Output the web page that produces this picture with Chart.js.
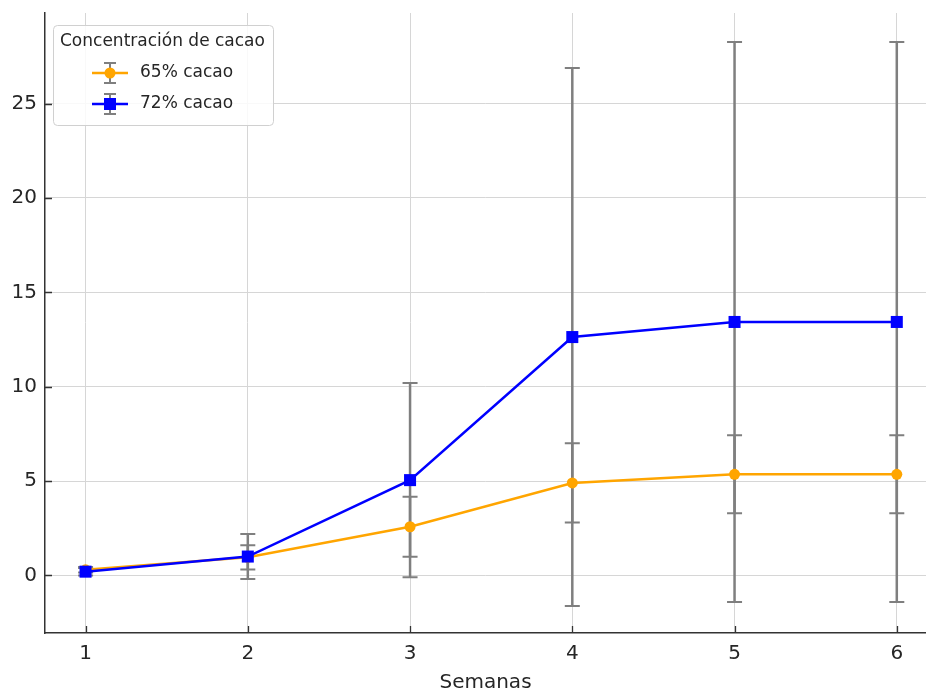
<!DOCTYPE html>
<html>
<head>
<meta charset="utf-8">
<script src="https://cdn.jsdelivr.net/npm/chart.js@4"></script>
<style>
  html, body { margin: 0; padding: 0; background: #fff; overflow: hidden; }
  #grafica { display: block; }
</style>
</head>
<body>
<canvas id="grafica" width="926" height="695"></canvas>
<script>
var semanas = [1, 2, 3, 4, 5, 6];
var etiquetas = ['65% cacao', '72% cacao'];
var cacao65 = [0.3, 0.96, 2.58, 4.9, 5.36, 5.36];
var error65 = [0.15, 0.64, 1.59, 2.1, 2.07, 2.07];
var cacao72 = [0.2, 1.0, 5.05, 12.63, 13.43, 13.43];
var error72 = [0.2, 1.19, 5.15, 14.25, 14.84, 14.84];
var ticksY = [0, 5, 10, 15, 20, 25];

var fuente = "'DejaVu Sans', sans-serif";

function puntos(valores) {
    return semanas.map((s, i) => ({ x: s, y: valores[i] }));
}

// barras de error grises con tapas
var barrasError = {
    id: 'barrasError',
    beforeDatasetsDraw(chart) {
        var ctx = chart.ctx;
        var x = chart.scales.x, y = chart.scales.y;
        ctx.save();
        ctx.strokeStyle = '#7f7f7f';
        chart.data.datasets.forEach(ds => {
            ds.errores.forEach((e, i) => {
                var px = x.getPixelForValue(semanas[i]);
                var arriba = y.getPixelForValue(ds.data[i].y + e);
                var abajo = y.getPixelForValue(ds.data[i].y - e);
                ctx.lineWidth = 2.5;
                ctx.beginPath();
                ctx.moveTo(px, arriba);
                ctx.lineTo(px, abajo);
                ctx.stroke();
                ctx.lineWidth = 2;
                ctx.beginPath();
                ctx.moveTo(px - 7.5, arriba); ctx.lineTo(px + 7.5, arriba);
                ctx.moveTo(px - 7.5, abajo); ctx.lineTo(px + 7.5, abajo);
                ctx.stroke();
            });
        });
        ctx.restore();
    }
};

// marcas de los ejes hacia dentro
var marcasDentro = {
    id: 'marcasDentro',
    afterDraw(chart) {
        var ctx = chart.ctx;
        var x = chart.scales.x, y = chart.scales.y;
        var area = chart.chartArea;
        ctx.save();
        ctx.strokeStyle = '#333';
        ctx.lineWidth = 1.3;
        ctx.beginPath();
        semanas.forEach(s => {
            var px = Math.round(x.getPixelForValue(s)) + 0.5;
            ctx.moveTo(px, area.bottom);
            ctx.lineTo(px, area.bottom - 7);
        });
        ticksY.forEach(v => {
            var py = Math.round(y.getPixelForValue(v)) + 0.5;
            ctx.moveTo(area.left, py);
            ctx.lineTo(area.left + 7, py);
        });
        ctx.stroke();
        ctx.restore();
    }
};

// leyenda dentro del area
var leyenda = {
    id: 'leyenda',
    afterDraw(chart) {
        var ctx = chart.ctx;
        ctx.save();
        ctx.beginPath();
        ctx.roundRect(53.5, 25.5, 220, 100, 4);
        ctx.fillStyle = 'rgba(255,255,255,0.85)';
        ctx.fill();
        ctx.strokeStyle = '#d0d0d0';
        ctx.lineWidth = 1;
        ctx.stroke();

        ctx.fillStyle = '#262626';
        ctx.font = '17px ' + fuente;
        ctx.textBaseline = 'middle';
        ctx.textAlign = 'left';
        ctx.fillText('Concentración de cacao', 60, 42);

        var filas = [73, 104];
        chart.data.datasets.forEach((ds, i) => {
            var fy = filas[i];
            ctx.strokeStyle = '#7f7f7f';
            ctx.lineWidth = 2;
            ctx.beginPath();
            ctx.moveTo(110, fy - 10); ctx.lineTo(110, fy + 10);
            ctx.moveTo(104, fy - 10); ctx.lineTo(116, fy - 10);
            ctx.moveTo(104, fy + 10); ctx.lineTo(116, fy + 10);
            ctx.stroke();
            ctx.strokeStyle = ds.borderColor;
            ctx.lineWidth = 2.5;
            ctx.beginPath();
            ctx.moveTo(92, fy); ctx.lineTo(128, fy);
            ctx.stroke();
            ctx.fillStyle = ds.backgroundColor;
            if (ds.pointStyle === 'rect') {
                ctx.fillRect(104, fy - 6, 12, 12);
            } else {
                ctx.beginPath();
                ctx.arc(110, fy, 5.5, 0, Math.PI * 2);
                ctx.fill();
            }
            ctx.fillStyle = '#262626';
            ctx.fillText(ds.label, 140, fy);
        });
        ctx.restore();
    }
};

var ctx = document.getElementById('grafica').getContext('2d');
var grafica = new Chart(ctx, {
    type: 'line',
    data: {
        datasets: [{
            label: etiquetas[0],
            data: puntos(cacao65),
            errores: error65,
            borderColor: '#ffa500',
            backgroundColor: '#ffa500',
            borderWidth: 2.5,
            pointStyle: 'circle',
            pointRadius: 5.5,
            pointBorderWidth: 0,
            order: 2
        }, {
            label: etiquetas[1],
            data: puntos(cacao72),
            errores: error72,
            borderColor: '#0000ff',
            backgroundColor: '#0000ff',
            borderWidth: 2.5,
            pointStyle: 'rect',
            pointRadius: 8.5,
            pointBorderWidth: 0,
            order: 1
        }]
    },
    options: {
        responsive: false,
        animation: false,
        layout: { autoPadding: false, padding: { top: 13, left: 0, right: 0, bottom: 0 } },
        plugins: { legend: { display: false }, tooltip: { enabled: false } },
        scales: {
            x: {
                type: 'linear',
                min: 0.75,
                max: 6.18,
                afterBuildTicks: eje => { eje.ticks = semanas.map(v => ({ value: v })); },
                afterFit: eje => { eje.height = 62; eje.paddingLeft = 0; eje.paddingRight = 0; },
                grid: { color: '#d6d6d6', lineWidth: 1, drawTicks: false },
                border: { color: '#333', width: 1.5 },
                ticks: { color: '#262626', padding: 9, font: { family: fuente, size: 20 } },
                title: {
                    display: true, text: 'Semanas', color: '#262626', padding: { top: 2, bottom: 0 },
                    font: { family: fuente, size: 20 }
                }
            },
            y: {
                type: 'linear',
                min: -3.05,
                max: 29.8,
                afterBuildTicks: eje => { eje.ticks = ticksY.map(v => ({ value: v })); },
                afterFit: eje => { eje.width = 45; eje.paddingTop = 0; eje.paddingBottom = 0; },
                grid: { color: '#d6d6d6', lineWidth: 1, drawTicks: false },
                border: { color: '#333', width: 1.5 },
                ticks: { color: '#262626', padding: 8, font: { family: fuente, size: 20 } }
            }
        }
    },
    plugins: [barrasError, marcasDentro, leyenda]
});
</script>
</body>
</html>
